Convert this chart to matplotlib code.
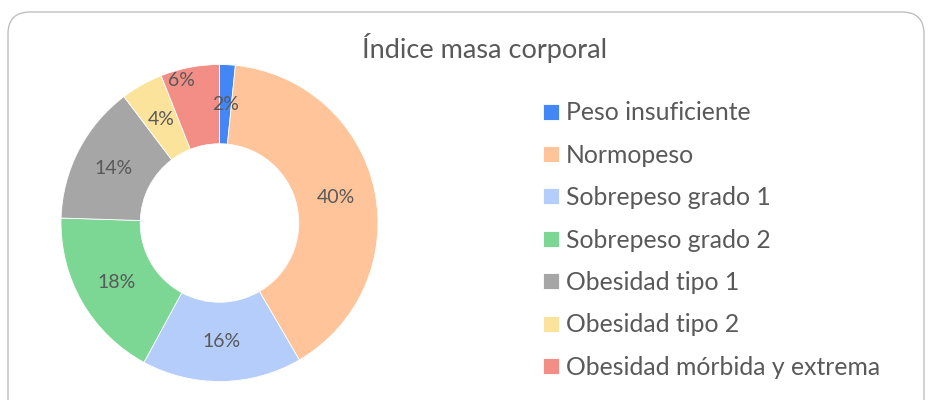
import matplotlib
matplotlib.use("Agg")

import numpy as np
import matplotlib.pyplot as plt
from matplotlib.patches import FancyBboxPatch

# data
categorias = [
    "Peso insuficiente",
    "Normopeso",
    "Sobrepeso grado 1",
    "Sobrepeso grado 2",
    "Obesidad tipo 1",
    "Obesidad tipo 2",
    "Obesidad mórbida y extrema",
]
porcentajes = [1.6, 40.0, 16.3, 17.6, 14.2, 4.3, 6.0]
colores = ["#4287F5", "#FFC499", "#B4CDFA", "#7CD694", "#A6A6A6", "#FCE39B", "#F28E86"]
titulo = "Índice masa corporal"

TXT = "#595959"
plt.rcParams["font.family"] = ["Lato", "DejaVu Sans"]

W, H = 931, 400
fig = plt.figure(figsize=(W / 100, H / 100), dpi=100)

# fondo con borde redondeado
bg = fig.add_axes([0, 0, 1, 1])
bg.set_xlim(0, W)
bg.set_ylim(H, 0)
bg.axis("off")
bg.add_patch(FancyBboxPatch((8, 12), 916, 430,
                            boxstyle="round,pad=0,rounding_size=22",
                            fc="white", ec="#BFBFBF", lw=1.0))

# donut
cx, cy, r = 219.5, 223, 158.5
ax = fig.add_axes([(cx - r) / W, (H - cy - r) / H, 2 * r / W, 2 * r / H])
wedges, _, autotexts = ax.pie(
    porcentajes, colors=colores, startangle=90, counterclock=False,
    radius=1, wedgeprops=dict(width=0.5, edgecolor="white", linewidth=0.6),
    autopct="%1.0f%%", pctdistance=0.75,
    textprops=dict(color=TXT, fontsize=14),
)
ax.set_xlim(-1, 1)
ax.set_ylim(-1, 1)
ax.set_aspect("equal")

# la etiqueta del 6% se desplaza hacia fuera (como en Excel) para no chocar con el 2%
w = wedges[-1]
ang = np.deg2rad((w.theta1 + w.theta2) / 2 + 4)
autotexts[-1].set_position((0.93 * np.cos(ang), 0.93 * np.sin(ang)))

fig.text(485 / W, 1 - 48 / H, titulo, ha="center", va="center",
         fontsize=19.5, color=TXT)

leg = fig.legend(wedges, categorias, loc="upper left",
                 bbox_to_anchor=(531 / W, 1 - 89 / H),
                 frameon=False, fontsize=17.8, labelcolor=TXT,
                 handlelength=0.62, handleheight=0.62, handletextpad=0.3,
                 labelspacing=0.785, borderpad=0)

fig.savefig("out.png", dpi=100)
